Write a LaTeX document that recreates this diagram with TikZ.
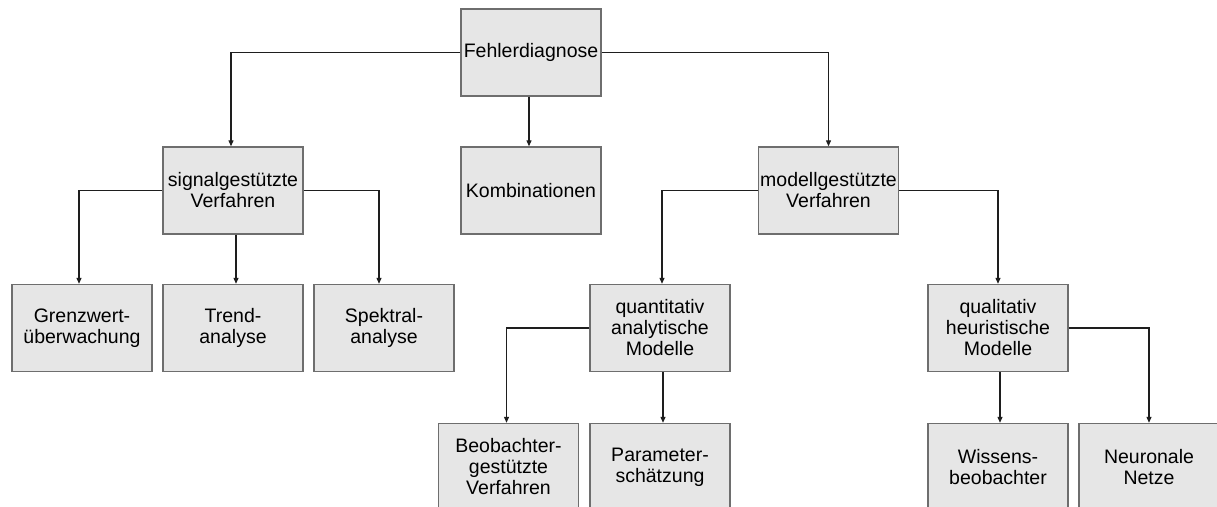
\documentclass[tikz,border=0pt]{standalone}
\usepackage{fontspec}
\setmainfont{Liberation Sans}
\usetikzlibrary{arrows.meta}
\definecolor{boxfill}{HTML}{E6E6E6}
\definecolor{boxline}{HTML}{6E6E6E}
\definecolor{wire}{HTML}{1E1E1E}
\begin{document}
\begin{tikzpicture}[x=1pt,y=-1pt,
  box/.style={draw=boxline,line width=1.4pt,fill=boxfill,
    minimum width=140pt,minimum height=87pt,inner sep=0pt,
    align=center,text=black,font=\fontsize{19.5}{21}\selectfont},
  link/.style={draw=wire,line width=1.2pt,
    -{Triangle[length=6pt,width=5pt]}}]
\useasboundingbox (0,0) rectangle (1217,506);
\clip (0,0) rectangle (1217,506);
\fill[white] (0,0) rectangle (1217,506);

% top level
\node[box] (fd) at (531,52.5) {Fehlerdiagnose};

% second level
\node[box] (sig) at (233,190.5) {signalgestützte\\Verfahren};
\node[box] (kom) at (531,190.5) {Kombinationen};
\node[box] (mod) at (828.5,190.5) {modellgestützte\\Verfahren};

% third level
\node[box] (gre) at (82,328) {Grenzwert-\\überwachung};
\node[box] (tre) at (233,328) {Trend-\\analyse};
\node[box] (spe) at (384,328) {Spektral-\\analyse};
\node[box] (qan) at (660,328) {quantitativ\\analytische\\Modelle};
\node[box] (qal) at (998,328) {qualitativ\\heuristische\\Modelle};

% fourth level
\node[box] (beo) at (508.5,467) {Beobachter-\\gestützte\\Verfahren};
\node[box] (par) at (660,467) {Parameter-\\schätzung};
\node[box] (wis) at (998,467) {Wissens-\\beobachter};
\node[box] (neu) at (1149,467) {Neuronale\\Netze};

% connectors
\draw[link] (fd.west) -| ([xshift=-2pt]sig.north);
\draw[link] ([xshift=-2pt]fd.south) -- ([xshift=-2pt]kom.north);
\draw[link] (fd.east) -| (mod.north);

\draw[link] (sig.west) -| ([xshift=-3pt]gre.north);
\draw[link] ([xshift=3pt]sig.south) -- ([xshift=3pt]tre.north);
\draw[link] (sig.east) -| ([xshift=-5pt]spe.north);

\draw[link] (mod.west) -| ([xshift=2pt]qan.north);
\draw[link] (mod.east) -| (qal.north);

\draw[link] (qan.west) -| ([xshift=-2pt]beo.north);
\draw[link] ([xshift=3pt]qan.south) -- ([xshift=3pt]par.north);
\draw[link] ([xshift=2pt]qal.south) -- ([xshift=2pt]wis.north);
\draw[link] (qal.east) -| (neu.north);
\end{tikzpicture}
\end{document}
